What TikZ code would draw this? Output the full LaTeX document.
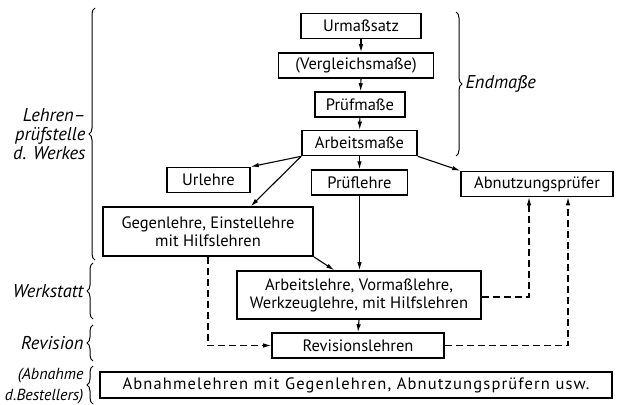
\documentclass[tikz,border=0pt]{standalone}
\usepackage{fontspec}
\setmainfont{PT Sans}
\usepackage{tikz}
\usetikzlibrary{arrows.meta, positioning, calc, decorations.pathreplacing}
\tikzset{
    gauge/.style={rectangle, draw=black, line width=1.6pt, minimum height=25pt, inner sep=2pt, text centered, align=center, font=\fontsize{16.5}{19}\selectfont},
    line/.style={draw, -{Latex[length=8pt, width=4.5pt]}, line width=1.1pt},
    dashline/.style={line, dash pattern=on 7pt off 4pt},
    bracelabel/.style={font=\itshape\fontsize{18.5}{19}\selectfont, align=right, anchor=east, inner sep=0pt},
    curly/.style={decorate, decoration={brace, amplitude=6pt}, line width=1pt}
}

\begin{document}
\begin{tikzpicture}[x=1pt, y=-1pt, node distance=14pt]
        \useasboundingbox (0,0) rectangle (634,404);

        \node [gauge, minimum width=120pt] (urmass) at (361,26) {Urmaßsatz};
        \node [gauge, minimum width=155pt] (vergleich) at (356,65.5) {(Vergleichsmaße)};
        \node [gauge, minimum width=90pt] (pruefmass) at (360,104.5) {Prüfmaße};
        \node [gauge, minimum width=115pt] (arbeitsmass) at (359.5,143) {Arbeitsmaße};

        \node [gauge, minimum width=83pt] (urlehre) at (208.5,180) {Urlehre};
        \node [gauge, minimum width=96pt, below=13pt of arbeitsmass] (prueflehre) {Prüflehre};
        \node [gauge, minimum width=152pt] (abnutz) at (537,184) {Abnutzungsprüfer};

        \node [gauge, minimum width=210pt, minimum height=49pt] (gegen) at (208,231.5) {Gegenlehre, Einstellehre\\[-1pt]mit Hilfslehren};
        \node [gauge, minimum width=244pt, minimum height=48pt] (arbeitslehre) at (359,295) {Arbeitslehre, Vormaßlehre,\\[-1pt]Werkzeuglehre, mit Hilfslehren};
        \node [gauge, minimum width=172pt] (revision) at (358,345.5) {Revisionslehren};
        \node [gauge, minimum width=512pt, minimum height=26pt] (abnahme) at (356,385) {\addfontfeature{LetterSpace=7}Abnahmelehren mit Gegenlehren, Abnutzungsprüfern usw.};

        % Braces
        \draw [curly] (95,260) -- (95,8) node [midway, xshift=-9pt, bracelabel] (lbl-lehren) {Lehren–\\prüfstelle\\d. Werkes};
        \draw [curly] (456,12) -- (456,156) node [midway, xshift=9pt, bracelabel, anchor=west] (lbl-endmass) {Endmaße};
        \draw [curly] (93,319) -- (93,263) node [midway, xshift=-9pt, bracelabel] (lbl-werkstatt) {Werkstatt};
        \draw [curly] (93,361) -- (93,325) node [midway, xshift=-9pt, bracelabel] (lbl-revision) {Revision};
        \draw [curly] (93,404) -- (93,366) node [midway, xshift=-9pt, bracelabel, font=\itshape\fontsize{16}{21}\selectfont, yshift=-1pt] (lbl-abnahme) {(Abnahme\\d.Bestellers)};

        % Paths
        \draw [line] (urmass) -- (vergleich.north -| urmass);
        \draw [line] (vergleich.south -| urmass) -- (pruefmass);
        \draw [line] (pruefmass) -- (arbeitsmass);
        \draw [line] (arbeitsmass.south west) -- (urlehre.north east);
        \draw [line] (arbeitsmass.south west) -- ([xshift=-63pt]gegen.north east);
        \draw [line] (arbeitsmass) -- (prueflehre);
        \draw [line] (arbeitsmass.south east) -- (abnutz.north west);
        \draw [line] (prueflehre) -- (prueflehre |- arbeitslehre.north);
        \draw [line] (gegen.south east) -- ([xshift=98pt]arbeitslehre.north west);
        \draw [line] (arbeitslehre.south) -- (revision.north);
        \draw [dashline] (gegen.south) |- (revision.west);
        \draw [dashline] ([yshift=-2pt]arbeitslehre.east) -| ([xshift=-8pt]abnutz.south);
        \draw [dashline] (revision.east) -| ([xshift=31pt]abnutz.south);

    \end{tikzpicture}
\end{document}
